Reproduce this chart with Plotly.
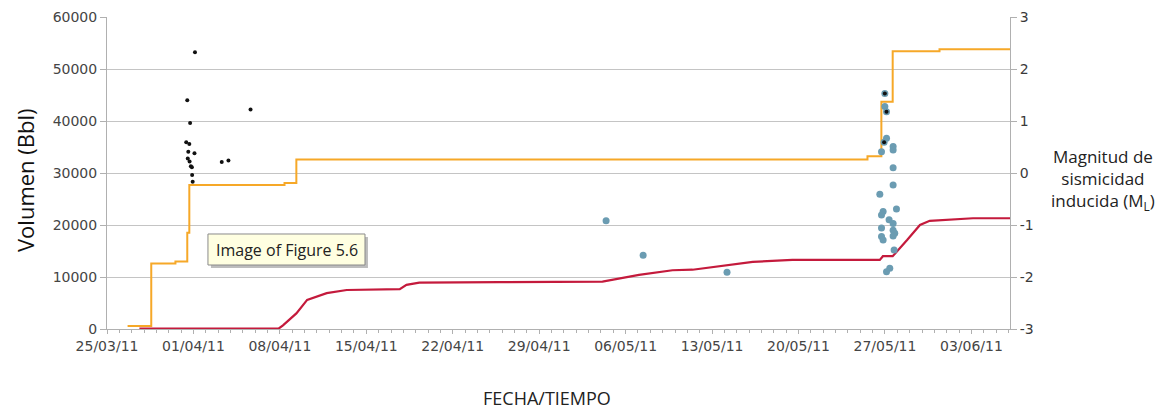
import plotly.graph_objects as go

# ---- Data ----
orange_dates = ["2011-03-26 16:00", "2011-03-28 14:00", "2011-03-30 13:00", "2011-03-31 12:00",
                "2011-03-31 16:00", "2011-04-08 09:00", "2011-04-09 08:00", "2011-05-25 14:00",
                "2011-05-26 17:00", "2011-05-27 15:00", "2011-05-31 10:00", "2011-06-06 03:00"]
orange_vol = [600, 12600, 13000, 18500, 27700, 28100, 32600, 33200, 43700, 53400, 53800, 53800]

red_dates = ["2011-03-27 15:00", "2011-04-07 22:00", "2011-04-08 06:00", "2011-04-09 08:00",
             "2011-04-10 05:00", "2011-04-11 19:00", "2011-04-13 10:00", "2011-04-17 17:00",
             "2011-04-18 06:00", "2011-04-19 07:00", "2011-04-25 19:00", "2011-05-04 03:00",
             "2011-05-07 02:00", "2011-05-09 19:00", "2011-05-11 10:00", "2011-05-14 05:00",
             "2011-05-16 07:00", "2011-05-19 12:00", "2011-05-26 14:00", "2011-05-26 20:00",
             "2011-05-27 15:00", "2011-05-28 19:00", "2011-05-29 20:00", "2011-05-30 15:00",
             "2011-06-01 12:00", "2011-06-03 03:00", "2011-06-06 03:00"]
red_vol = [100, 100, 700, 3000, 5600, 6900, 7500, 7650, 8500, 8900, 9000, 9100,
           10400, 11300, 11400, 12300, 12900, 13300, 13300, 14000, 14000, 17100,
           20000, 20800, 21000, 21300, 21300]

blue_dates = ["2011-05-04 10:00", "2011-05-07 10:00", "2011-05-14 05:00",
              "2011-05-26 23:45", "2011-05-26 23:45", "2011-05-27 03:00", "2011-05-27 03:00",
              "2011-05-26 22:20", "2011-05-26 17:15", "2011-05-27 15:50", "2011-05-27 15:50",
              "2011-05-27 15:50", "2011-05-27 15:50", "2011-05-26 14:00", "2011-05-27 22:20",
              "2011-05-26 20:24", "2011-05-26 17:15", "2011-05-27 08:00", "2011-05-27 15:50",
              "2011-05-26 17:15", "2011-05-27 15:50", "2011-05-27 19:00", "2011-05-27 15:50",
              "2011-05-26 17:15", "2011-05-26 20:24", "2011-05-27 17:45", "2011-05-27 09:20",
              "2011-05-27 03:00"]
blue_mag = [-0.92, -1.58, -1.91,
            1.53, 1.28, 1.18, 0.67, 0.59, 0.41, 0.51, 0.44, 0.10, -0.23, -0.41, -0.69,
            -0.74, -0.81, -0.90, -0.97, -1.06, -1.10, -1.16, -1.21, -1.22, -1.29, -1.48,
            -1.83, -1.90]

black_dates = ["2011-03-31 12:00", "2011-03-31 17:30", "2011-04-01 03:00", "2011-03-31 10:00",
               "2011-03-31 16:00", "2011-03-31 14:00", "2011-04-01 02:00", "2011-03-31 13:00",
               "2011-03-31 16:30", "2011-03-31 19:00", "2011-03-31 21:00", "2011-03-31 21:30",
               "2011-03-31 22:30", "2011-04-03 07:00", "2011-04-03 20:00", "2011-04-05 15:00",
               "2011-05-26 23:45", "2011-05-27 03:00", "2011-05-26 22:20"]
black_mag = [1.40, 0.96, 2.32, 0.59, 0.56, 0.41, 0.38, 0.28, 0.22, 0.13, 0.11, -0.04,
             -0.17, 0.21, 0.24, 1.22, 1.53, 1.18, 0.59]

left_ticks = [0, 10000, 20000, 30000, 40000, 50000, 60000]
left_labels = ["0", "10000", "20000", "30000", "40000", "50000", "60000"]
right_ticks = [-3, -2, -1, 0, 1, 2, 3]
right_labels = ["-3", "-2", "-1", "0", "1", "2", "3"]

ORANGE = "#f6a828"
RED = "#c41a3c"
BLUE = "#6b9cb2"
GRID = "#c4c4c4"
AXC = "#b0b0b0"
TICKFONT = dict(family="DejaVu Sans", size=14, color="#454545")

fig = go.Figure()
fig.add_trace(go.Scatter(x=orange_dates, y=orange_vol, mode="lines", line_shape="hv",
                         line=dict(color=ORANGE, width=2), yaxis="y"))
fig.add_trace(go.Scatter(x=red_dates, y=red_vol, mode="lines",
                         line=dict(color=RED, width=2.2), yaxis="y"))
fig.add_trace(go.Scatter(x=blue_dates, y=blue_mag, mode="markers",
                         marker=dict(color=BLUE, size=7), yaxis="y2"))
fig.add_trace(go.Scatter(x=black_dates, y=black_mag, mode="markers",
                         marker=dict(color="#111111", size=4), yaxis="y2"))

# page body has an 8px margin, so the figure is offset by 8px
fig.update_layout(
    width=1160, height=403,
    margin=dict(l=99, r=158, t=9, b=82),
    paper_bgcolor="white", plot_bgcolor="white",
    showlegend=False,
    xaxis=dict(type="date", range=["2011-03-25", "2011-06-06 03:00"],
               tick0="2011-03-25", dtick=7 * 86400000, tickformat="%d/%m/%y",
               ticks="outside", ticklen=4, tickcolor=AXC,
               minor=dict(dtick=86400000, ticks="outside", ticklen=3, tickcolor=AXC),
               showline=True, linecolor=AXC, linewidth=1, automargin=False,
               showgrid=False, zeroline=False, tickfont=TICKFONT),
    yaxis=dict(range=[0, 60000], tickvals=left_ticks, ticktext=left_labels,
               ticks="outside", ticklen=6, automargin=False,
               tickcolor=AXC, showline=True, linecolor=AXC,
               showgrid=True, gridcolor=GRID, gridwidth=1.3, zeroline=False,
               tickfont=TICKFONT),
    yaxis2=dict(range=[-3, 3], tickvals=right_ticks, ticktext=right_labels,
                overlaying="y", side="right", automargin=False,
                ticks="outside", ticklen=6, tickcolor=AXC, showline=True,
                linecolor=AXC, showgrid=False, zeroline=False,
                tickfont=dict(family="DejaVu Sans", size=14, color="#3a3a3a")),
)

# tooltip-like box (shadow + body)
fig.add_shape(type="rect", xref="paper", yref="paper", x0=0.1151, x1=0.2890,
              y0=0.1955, y1=0.2949, fillcolor="#bdbdbd", line=dict(width=0), layer="above")
fig.add_shape(type="rect", xref="paper", yref="paper", x0=0.1118, x1=0.2857,
              y0=0.2051, y1=0.3045, fillcolor="#ffffe1", line=dict(color="#8a8a8a", width=1),
              layer="above")

A = dict(xref="paper", yref="paper", xanchor="center", yanchor="middle", showarrow=False)
fig.add_annotation(text="Volumen (Bbl)", x=-0.0908, y=0.4776, textangle=-90,
                   font=dict(family="Open Sans", size=22, color="#111111"), **A)
fig.add_annotation(text="FECHA/TIEMPO", x=0.487, y=-0.221,
                   font=dict(family="Open Sans", size=18, color="#222222"), **A)
fig.add_annotation(text="Magnitud de<br>sismicidad<br>inducida (M<sub>L</sub>)",
                   x=1.103, y=0.478, align="center",
                   font=dict(family="Open Sans", size=17, color="#222222"), **A)
fig.add_annotation(text="Image of Figure 5.6", x=0.1988, y=0.2532,
                   font=dict(family="Open Sans", size=16, color="#222222"), **A)

fig.write_html("out.html")
